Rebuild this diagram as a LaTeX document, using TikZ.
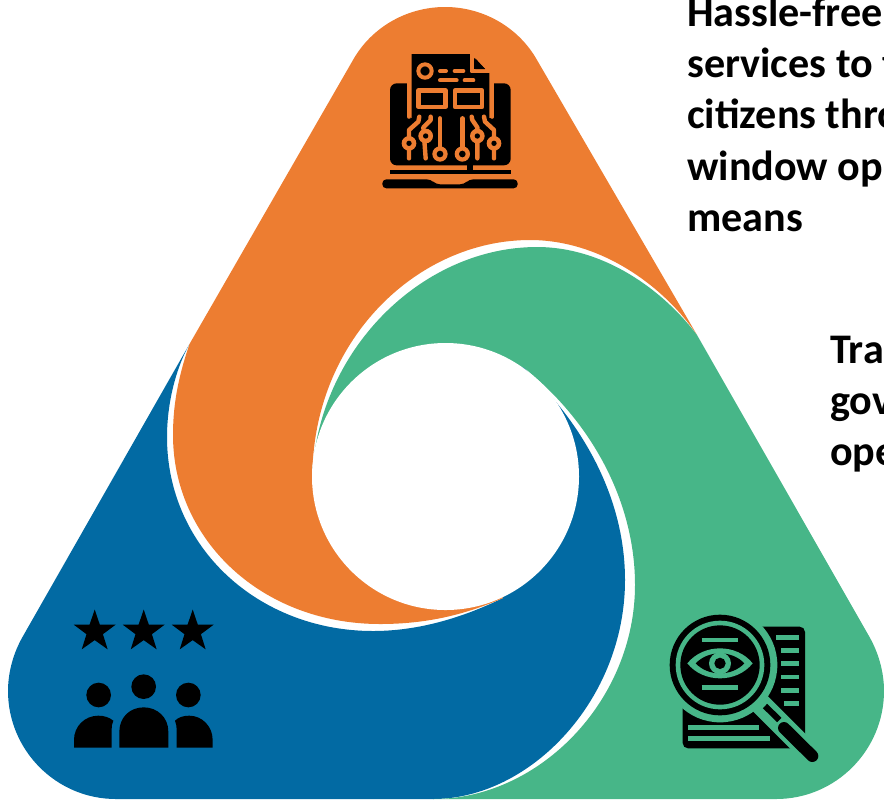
\documentclass[tikz,border=0pt]{standalone}
\usepackage{fontspec}
\setmainfont{Carlito}
\usetikzlibrary{shapes.geometric}
\definecolor{cOrange}{HTML}{ED7D31}
\definecolor{cBlue}{HTML}{026AA3}
\definecolor{cGreen}{HTML}{47B688}
\tikzset{
  piece/.style={draw=none},
  labeltext/.style={anchor=base west,inner sep=0pt,font=\fontsize{31.6}{38.4}\selectfont\bfseries},
  oline/.style={draw=cOrange,line width=3.3pt,line cap=round,line join=round},
  gline/.style={draw=cGreen,line width=3.7pt},
  starmark/.style={star,star points=5,star point ratio=2.55,fill=black,draw=none,minimum size=33pt,inner sep=0pt}
}
\begin{document}
\begin{tikzpicture}[x=0.75pt,y=-0.75pt]
\useasboundingbox (0,0) rectangle (884,801);
\begin{scope}
\clip (0,0) rectangle (884,801);
% blue
\fill[cBlue,piece] (189.5,344) -- (22.5,637)
  .. controls (14,652) and (8,671) .. (8,691)
  .. controls (8,750) and (56,799) .. (116,799)
  -- (433,799)
  .. controls (530,799) and (625,700) .. (625,580)
  .. controls (625,500) and (585,425) .. (523,367)
  -- (445,476) -- (503,598)
  .. controls (462,618) and (418,631) .. (373,631)
  .. controls (259,631) and (167,548) .. (167,437)
  .. controls (167,405) and (175,370) .. (189.5,344)
  -- cycle;
% orange
\fill[cOrange,piece] (353,60)
  .. controls (371,28) and (406,7) .. (445,7)
  .. controls (484,7) and (519,28) .. (537,60)
  -- (697,335)
  .. controls (663,285) and (600,240) .. (530,240)
  .. controls (418,240) and (316,338) .. (312.5,470)
  -- (445,476) -- (503,598)
  .. controls (467,614) and (428,624) .. (380,624)
  .. controls (262,624) and (173,540) .. (173,435)
  .. controls (173,400) and (180,372) .. (189.5,344)
  -- cycle;
% green
\fill[cGreen,piece] (312.5,470)
  .. controls (322,345) and (425,247) .. (537,247)
  .. controls (604,247) and (663,290) .. (697,335)
  -- (869.5,637)
  .. controls (878,652) and (884,671) .. (884,691)
  .. controls (884,750) and (836,799) .. (776,799)
  -- (433,799)
  .. controls (540,799) and (635,700) .. (635,585)
  .. controls (635,500) and (590,420) .. (523,367)
  -- (445,476) -- cycle;
% centre hole
\fill[white] (445.5,476.5) circle[radius=133.5];
% texts
\node[labeltext] (t1a) at (687,26) {Hassle-free};
\node[labeltext] (t1b) at (687,77) {services to t};
\node[labeltext] (t1c) at (687,128) {citizens thro};
\node[labeltext] (t1d) at (687,180) {window op};
\node[labeltext] (t1e) at (687,231) {means};
\node[labeltext] (t2a) at (830,363) {Tra};
\node[labeltext] (t2b) at (830,414) {gov};
\node[labeltext] (t2c) at (830,465) {ope};
\end{scope}
% laptop icon
\begin{scope}[shift={(360,40)},scale=0.33333]
\fill[black,rounded corners=5pt] (90,130) rectangle (452,376);
\fill[black] (320,370) rectangle (338,395);
\fill[cOrange] (153,125) rectangle (392,235);
\draw[draw=cOrange,line width=3.2pt,line cap=round] (147,110) -- (147,230);
\draw[draw=cOrange,line width=3.2pt,line cap=round] (397,110) -- (397,230);
\fill[black] (155,42) -- (330,42) -- (388,100) -- (388,240) -- (155,240) -- cycle;
\draw[oline,line width=3pt,line cap=butt] (335,42) -- (335,94) -- (388,94);
\fill[black] (346,55) -- (375,87) -- (346,87) -- cycle;
\draw[oline,line width=3pt] (195,93) circle[radius=20];
\draw[oline,line width=3pt] (240,93) -- (258,93) (284,93) -- (310,93) (240,121) -- (290,121) (314,121) -- (340,121);
\draw[oline,line width=3.3pt,line cap=butt] (176,151) rectangle (256,201);
\draw[oline,line width=3.3pt,line cap=butt] (285,151) rectangle (366,201);
\draw[oline] (178,230) -- (175,245) -- (147,270) -- (147,355);
\draw[oline] (212,230) -- (212,240) -- (190,262) -- (197,355);
\draw[oline] (240,235) -- (240,335);
\draw[oline] (307,235) -- (307,335);
\draw[oline] (335,230) -- (337,240) -- (352,262) -- (352,355);
\draw[oline] (372,230) -- (375,245) -- (402,270) -- (402,355);
\foreach \cx/\cy in {147/310,197/288,352/288,402/310}{
  \fill[cOrange] (\cx,\cy) circle[radius=22];
  \fill[black] (\cx,\cy) circle[radius=8];
}
\foreach \cx/\cy in {240/342,307/342}{
  \fill[cOrange] (\cx,\cy) circle[radius=23];
  \fill[black] (\cx,\cy) circle[radius=10];
}
\fill[black] (90,390) rectangle (452,403);
\fill[black,rounded corners=3pt] (67,418) -- (212,418) -- (228,433) -- (312,433) -- (328,418) -- (473,418) -- (473,445) -- (67,445) -- cycle;
\end{scope}
% magnifier icon
\begin{scope}[shift={(650,600)},scale=0.33333]
\fill[black,rounded corners=4pt] (98,80) rectangle (465,445);
\draw[draw=cGreen,line width=16pt] (330,310) -- (500,480);
\fill[cGreen] (210,195) circle[radius=172];
\fill[black] (210,195) circle[radius=151];
\fill[cGreen] (210,195) circle[radius=133];
\fill[black] (210,195) circle[radius=119];
\draw[gline] (155,120) -- (265,120) (155,263) -- (265,263);
\fill[cGreen] (112,190) .. controls (160,130) and (260,130) .. (308,190) .. controls (260,250) and (160,250) .. (112,190) -- cycle;
\fill[black] (137,190) .. controls (175,150) and (245,150) .. (283,190) .. controls (245,230) and (175,230) .. (137,190) -- cycle;
\fill[cGreen] (210,190) circle[radius=33];
\fill[black] (210,190) circle[radius=17];
\draw[gline] (378,112) -- (448,112) (393,152) -- (448,152) (393,191) -- (448,191) (393,231) -- (448,231) (393,271) -- (448,271) (402,311) -- (448,311);
\draw[gline] (115,382) -- (328,382) (115,415) -- (360,415);
\draw[draw=black,line width=4.6pt] (345,318) -- (388,360);
\draw[draw=black,line width=9pt,line cap=round] (402,384) -- (487,468);
\end{scope}
% people icon
\node[starmark] (s1) at (94.7,631.5) {};
\node[starmark] (s2) at (143.7,631.5) {};
\node[starmark] (s3) at (192.7,631.5) {};
\begin{scope}[shift={(60,600)},scale=0.33333]
\fill[black] (116,285) circle[radius=37] (251,260) circle[radius=37] (385,285) circle[radius=37];
\fill[black] (178,443) -- (178,395) .. controls (178,352) and (210,322) .. (251,322) .. controls (292,322) and (325,352) .. (325,395) -- (325,443) -- cycle;
\fill[black] (42,443) -- (42,420) .. controls (42,378) and (75,347) .. (115,347) .. controls (132,347) and (148,352) .. (160,362) .. controls (155,372) and (155,380) .. (155,390) -- (155,443) -- cycle;
\fill[black] (458,443) -- (458,420) .. controls (458,378) and (425,347) .. (388,347) .. controls (370,347) and (355,352) .. (345,362) .. controls (349,372) and (350,380) .. (350,390) -- (350,443) -- cycle;
\end{scope}
\end{tikzpicture}
\end{document}
